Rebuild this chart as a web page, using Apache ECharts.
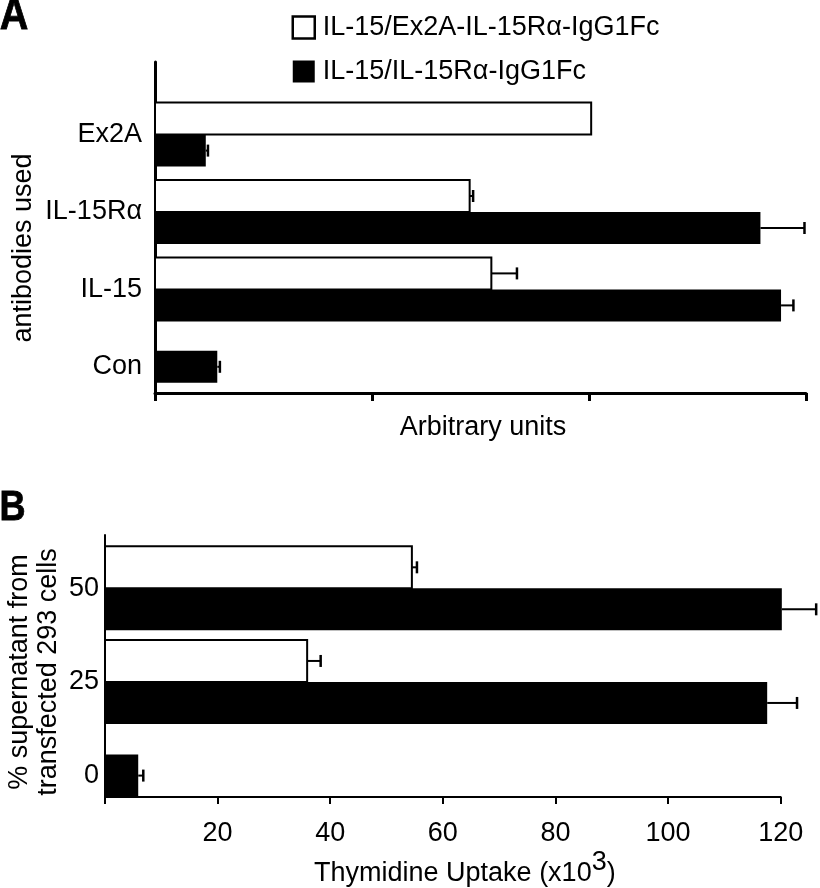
<!DOCTYPE html>
<html>
<head>
<meta charset="utf-8">
<script src="https://cdn.jsdelivr.net/npm/echarts@6/dist/echarts.min.js"></script>
<style>
html,body{margin:0;padding:0;background:#fff;}
#chart{width:820px;height:888px;}
</style>
</head>
<body>
<div id="chart"></div>
<script>
// ---------- DATA ----------
const seriesNames = ['IL-15/Ex2A-IL-15Rα-IgG1Fc', 'IL-15/IL-15Rα-IgG1Fc'];

// Panel A (arbitrary units)
const catsA = ['Ex2A', 'IL-15Rα', 'IL-15', 'Con'];
const ex2aFcA = [2.01, 1.45, 1.55, null];
const ex2aFcErrA = [0, 0.016, 0.118, null];
const fcA = [0.234, 2.79, 2.885, 0.287];
const fcErrA = [0.01, 0.203, 0.057, 0.012];

// Panel B (thymidine uptake, x10^3)
const catsB = ['50', '25', '0'];
const ex2aFcB = [54.5, 35.9, null];
const ex2aFcErrB = [0.9, 2.4, null];
const fcB = [120.2, 117.6, 5.9];
const fcErrB = [6.1, 5.3, 0.9];
const ticksB = [0, 20, 40, 60, 80, 100, 120];

// ---------- RENDERING ----------
const FONT = 'Liberation Sans, Arial, Helvetica, sans-serif';

function toData(vals, errs) {
  const out = [];
  vals.forEach((v, i) => { if (v != null) out.push([v, i, errs[i] || 0]); });
  return out;
}

function makeRender(barH, isWhite, whiteArr, lw) {
  return function (params, api) {
    const v = api.value(0), ci = api.value(1), e = api.value(2);
    const base = api.coord([0, ci]);
    const end = api.coord([v, ci]);
    const yc = base[1];
    const paired = whiteArr[ci] != null;
    const y0 = isWhite ? yc - barH : (paired ? yc : yc - barH / 2);
    const children = [{
      type: 'rect',
      shape: { x: base[0], y: y0, width: end[0] - base[0], height: barH },
      style: isWhite ? { fill: '#fff', stroke: '#000', lineWidth: lw } : { fill: '#000' }
    }];
    if (e > 0) {
      const xe = api.coord([v + e, ci])[0];
      const ym = y0 + barH / 2;
      children.push({ type: 'line', shape: { x1: end[0], y1: ym, x2: xe, y2: ym }, style: { stroke: '#000', lineWidth: 2 } });
      children.push({ type: 'line', shape: { x1: xe, y1: ym - 6, x2: xe, y2: ym + 6 }, style: { stroke: '#000', lineWidth: 2.5 } });
    }
    return { type: 'group', children: children };
  };
}

const chart = echarts.init(document.getElementById('chart'), null, { renderer: 'canvas' });

const hiddenAxis = { show: false };

const option = {
  backgroundColor: '#fff',
  animation: false,
  textStyle: { fontFamily: FONT, color: '#000' },
  legend: {
    orient: 'vertical',
    left: 291.5,
    top: 14,
    padding: 0,
    itemWidth: 22,
    itemHeight: 22,
    itemGap: 17,
    selectedMode: false,
    textStyle: { fontSize: 27, color: '#000', fontFamily: FONT, padding: [0, 0, 0, 3] },
    data: [
      { name: seriesNames[0], icon: 'rect', itemStyle: { color: '#fff', borderColor: '#000', borderWidth: 2.5 } },
      { name: seriesNames[1], icon: 'rect', itemStyle: { color: '#000', borderWidth: 0 } }
    ]
  },
  grid: [
    { left: 155, right: 14, top: 62, bottom: 495 },          // A frame
    { left: 155, right: 14, top: 95.9, bottom: 482.5 },      // A bars
    { left: 105, right: 39.3, top: 535, bottom: 85 },        // B frame
    { left: 105, right: 39.3, top: 541.5, bottom: 65.6 }     // B bars
  ],
  xAxis: [
    {
      gridIndex: 0, type: 'value', min: 0, max: 3, interval: 1,
      axisLine: { show: true, onZero: false, lineStyle: { color: '#000', width: 3 } },
      axisTick: { show: true, length: 8, lineStyle: { color: '#000', width: 3 } },
      axisLabel: { show: false },
      splitLine: { show: false },
      name: 'Arbitrary units', nameLocation: 'middle', nameGap: 21,
      nameTextStyle: { fontSize: 27, color: '#000', fontFamily: FONT, padding: [0, 0, 0, 5] }
    },
    Object.assign({ gridIndex: 1, type: 'value', min: 0, max: 3 }, hiddenAxis),
    {
      gridIndex: 2, type: 'value', min: ticksB[0], max: ticksB[ticksB.length - 1], interval: ticksB[1] - ticksB[0],
      axisLine: { show: true, onZero: false, lineStyle: { color: '#000', width: 2 } },
      axisTick: { show: true, length: 7, lineStyle: { color: '#000', width: 2 } },
      axisLabel: { show: true, fontSize: 27, color: '#000', fontFamily: FONT, margin: 23,
        formatter: function (v) { return v === 0 ? '' : String(v); } },
      splitLine: { show: false },
      name: '{n|Thymidine Uptake (x10}{s|3}{n|)}', nameLocation: 'middle', nameGap: 52,
      nameTextStyle: {
        fontSize: 27, color: '#000', fontFamily: FONT, padding: [0, 0, 0, 44],
        rich: {
          n: { fontSize: 27, color: '#000', fontFamily: FONT, verticalAlign: 'bottom' },
          s: { fontSize: 27, color: '#000', fontFamily: FONT, verticalAlign: 'bottom', padding: [0, 0, 11, 0] }
        }
      }
    },
    Object.assign({ gridIndex: 3, type: 'value', min: 0, max: 120 }, hiddenAxis)
  ],
  yAxis: [
    {
      gridIndex: 0, type: 'value', min: 0, max: 1,
      axisLine: { show: true, onZero: false, lineStyle: { color: '#000', width: 3 } },
      axisTick: { show: false }, axisLabel: { show: false }, splitLine: { show: false }
    },
    {
      gridIndex: 1, type: 'category', data: catsA, inverse: true,
      axisLine: { show: false }, axisTick: { show: false }, splitLine: { show: false },
      axisLabel: { fontSize: 27, color: '#000', fontFamily: FONT, margin: 13 }
    },
    {
      gridIndex: 2, type: 'value', min: 0, max: 1,
      axisLine: { show: true, onZero: false, lineStyle: { color: '#000', width: 2 } },
      axisTick: { show: false }, axisLabel: { show: false }, splitLine: { show: false }
    },
    {
      gridIndex: 3, type: 'category', data: catsB, inverse: true,
      axisLine: { show: false }, axisTick: { show: false }, splitLine: { show: false },
      axisLabel: { fontSize: 27, color: '#000', fontFamily: FONT, margin: 6 }
    }
  ],
  series: [
    {
      type: 'custom', name: seriesNames[0], xAxisIndex: 1, yAxisIndex: 1,
      itemStyle: { color: '#fff', borderColor: '#000' },
      encode: { x: 0, y: 1 },
      renderItem: makeRender(32, true, ex2aFcA, 2),
      data: toData(ex2aFcA, ex2aFcErrA)
    },
    {
      type: 'custom', name: seriesNames[1], xAxisIndex: 1, yAxisIndex: 1,
      itemStyle: { color: '#000' },
      encode: { x: 0, y: 1 },
      renderItem: makeRender(32, false, ex2aFcA, 2),
      data: toData(fcA, fcErrA)
    },
    {
      type: 'custom', name: seriesNames[0], xAxisIndex: 3, yAxisIndex: 3,
      itemStyle: { color: '#fff', borderColor: '#000' },
      encode: { x: 0, y: 1 },
      renderItem: makeRender(42, true, ex2aFcB, 2),
      data: toData(ex2aFcB, ex2aFcErrB)
    },
    {
      type: 'custom', name: seriesNames[1], xAxisIndex: 3, yAxisIndex: 3,
      itemStyle: { color: '#000' },
      encode: { x: 0, y: 1 },
      renderItem: makeRender(42, false, ex2aFcB, 2),
      data: toData(fcB, fcErrB)
    }
  ],
  graphic: [
    { type: 'text', x: 14, y: 17, scaleX: 0.88, style: { text: 'A', font: 'bold 45px ' + FONT, fill: '#000', stroke: '#000', lineWidth: 0.8, align: 'center', verticalAlign: 'middle' } },
    { type: 'text', x: 12.5, y: 508, scaleX: 0.84, style: { text: 'B', font: 'bold 43px ' + FONT, fill: '#000', stroke: '#000', lineWidth: 0.8, align: 'center', verticalAlign: 'middle' } },
    { type: 'text', x: 24, y: 248, rotation: Math.PI / 2, style: { text: 'antibodies used', font: '27px ' + FONT, fill: '#000', align: 'center', verticalAlign: 'middle' } },
    { type: 'text', x: 34, y: 672, rotation: Math.PI / 2, style: { text: '% supernatant from\ntransfected 293 cells', font: '27px ' + FONT, lineHeight: 28.5, fill: '#000', align: 'center', verticalAlign: 'middle' } }
  ]
};

chart.setOption(option);
</script>
</body>
</html>
